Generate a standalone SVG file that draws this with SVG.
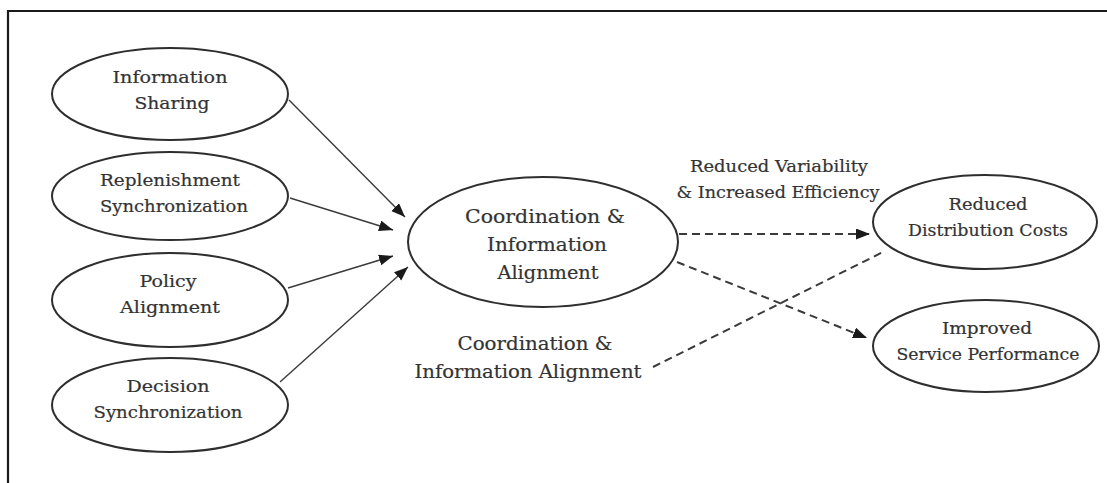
<svg xmlns="http://www.w3.org/2000/svg" width="1107" height="483" viewBox="0 0 1107 483">
  <style>
    .node ellipse { fill: #ffffff; stroke: #2e2e2e; stroke-width: 2; }
    .lbl { font-family: "DejaVu Serif", "Liberation Serif", serif; fill: #333333; stroke: #333333; stroke-width: 0.2; text-anchor: middle; }
    .sm { font-size: 17px; }
    .md { font-size: 18px; }
    .solid { stroke: #3a3a3a; stroke-width: 1.4; fill: none; marker-end: url(#head); }
    .dash { stroke: #3a3a3a; stroke-width: 2; fill: none; stroke-dasharray: 8 5; }
    .dash.arr { marker-end: url(#head); }
  </style>
  <defs>
    <marker id="head" markerUnits="userSpaceOnUse" markerWidth="16" markerHeight="12" refX="14" refY="5.5" orient="auto">
      <path d="M0,0 L14,5.5 L0,11 Z" fill="#1a1a1a"/>
    </marker>
  </defs>

  <rect width="1107" height="483" fill="#ffffff"/>
  <!-- frame -->
  <path d="M8,483 V11 H1107" fill="none" stroke="#1a1a1a" stroke-width="2.2"/>

  <g id="connectors">
    <line class="solid" x1="289" y1="100" x2="405" y2="217"/>
    <line class="solid" x1="290" y1="198" x2="393" y2="230"/>
    <line class="solid" x1="288" y1="288" x2="393" y2="256"/>
    <line class="solid" x1="280" y1="382" x2="408" y2="267"/>
    <line class="dash arr" x1="679" y1="234" x2="870" y2="234"/>
    <line class="dash arr" x1="677" y1="262" x2="867" y2="338"/>
    <line class="dash" x1="653" y1="367" x2="883" y2="252"/>
  </g>

  <g id="info-sharing" class="node">
    <ellipse cx="170" cy="94" rx="118" ry="46"/>
    <text class="lbl sm" x="170" y="83" textLength="115" lengthAdjust="spacingAndGlyphs">Information</text>
    <text class="lbl sm" x="172" y="109" textLength="75" lengthAdjust="spacingAndGlyphs">Sharing</text>
  </g>
  <g id="replenishment" class="node">
    <ellipse cx="170" cy="196" rx="118" ry="44"/>
    <text class="lbl sm" x="170" y="186" textLength="140" lengthAdjust="spacingAndGlyphs">Replenishment</text>
    <text class="lbl sm" x="174" y="212" textLength="148" lengthAdjust="spacingAndGlyphs">Synchronization</text>
  </g>
  <g id="policy" class="node">
    <ellipse cx="170" cy="300" rx="118" ry="47"/>
    <text class="lbl sm" x="168" y="287" textLength="57" lengthAdjust="spacingAndGlyphs">Policy</text>
    <text class="lbl sm" x="170" y="313" textLength="100" lengthAdjust="spacingAndGlyphs">Alignment</text>
  </g>
  <g id="decision" class="node">
    <ellipse cx="170" cy="405" rx="118" ry="47"/>
    <text class="lbl sm" x="168" y="392" textLength="83" lengthAdjust="spacingAndGlyphs">Decision</text>
    <text class="lbl sm" x="168" y="418" textLength="149" lengthAdjust="spacingAndGlyphs">Synchronization</text>
  </g>

  <g id="coordination" class="node">
    <ellipse cx="543" cy="242" rx="135" ry="65"/>
    <text class="lbl md" x="545" y="223" textLength="160" lengthAdjust="spacingAndGlyphs">Coordination &amp;</text>
    <text class="lbl md" x="547" y="251" textLength="120" lengthAdjust="spacingAndGlyphs">Information</text>
    <text class="lbl md" x="548" y="279" textLength="101" lengthAdjust="spacingAndGlyphs">Alignment</text>
  </g>

  <g id="distribution-costs" class="node">
    <ellipse cx="985" cy="222" rx="112" ry="47"/>
    <text class="lbl sm" x="988" y="210" textLength="79" lengthAdjust="spacingAndGlyphs">Reduced</text>
    <text class="lbl sm" x="988" y="236" textLength="160" lengthAdjust="spacingAndGlyphs">Distribution Costs</text>
  </g>
  <g id="service-performance" class="node">
    <ellipse cx="986" cy="346" rx="113" ry="46"/>
    <text class="lbl sm" x="987" y="334" textLength="90" lengthAdjust="spacingAndGlyphs">Improved</text>
    <text class="lbl sm" x="988" y="360" textLength="183" lengthAdjust="spacingAndGlyphs">Service Performance</text>
  </g>

  <g id="edge-labels">
    <text class="lbl sm" x="779" y="172" textLength="178" lengthAdjust="spacingAndGlyphs">Reduced Variability</text>
    <text class="lbl sm" x="778" y="198" textLength="203" lengthAdjust="spacingAndGlyphs">&amp; Increased Efficiency</text>
    <text class="lbl md" x="535" y="350" textLength="155" lengthAdjust="spacingAndGlyphs">Coordination &amp;</text>
    <text class="lbl md" x="528" y="378" textLength="227" lengthAdjust="spacingAndGlyphs">Information Alignment</text>
  </g>
</svg>
